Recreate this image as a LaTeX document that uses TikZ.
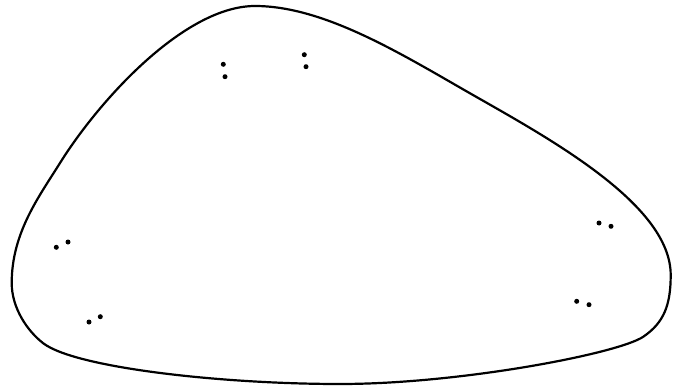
\documentclass[tikz,border=0pt]{standalone}
\begin{document}
\begin{tikzpicture}[x=1pt,y=-1pt,
  outline/.style={line width=2.2pt},
  dotmark/.style={fill=black,circle,inner sep=0pt,minimum size=5pt}]
\useasboundingbox (0,0) rectangle (680,388);
\draw[outline] (11.7,283)
  .. controls (11.7,233) and (38.8,196.9) .. (60,163)
  .. controls (99.75,99.4) and (185,6) .. (255,6)
  .. controls (325,6) and (403.5,55.4) .. (473,95)
  .. controls (551.2,139.6) and (670.7,205) .. (670.7,275)
  .. controls (670.7,305) and (664,322.6) .. (643.3,336.7)
  .. controls (618.5,353.6) and (460,384) .. (340,384)
  .. controls (220,384) and (75.1,367.6) .. (43.3,343.3)
  .. controls (27.4,331.1) and (11.7,308) .. cycle;
\node[dotmark] (a1) at (223.3,64.3) {};
\node[dotmark] (a2) at (225,76.7) {};
\node[dotmark] (b1) at (304.3,54.7) {};
\node[dotmark] (b2) at (306,66.7) {};
\node[dotmark] (c1) at (56.3,247.3) {};
\node[dotmark] (c2) at (68,242) {};
\node[dotmark] (d1) at (89,322) {};
\node[dotmark] (d2) at (100.3,316.7) {};
\node[dotmark] (e1) at (599,223) {};
\node[dotmark] (e2) at (611,226.3) {};
\node[dotmark] (f1) at (576.7,301.3) {};
\node[dotmark] (f2) at (589,304.7) {};
\end{tikzpicture}
\end{document}
